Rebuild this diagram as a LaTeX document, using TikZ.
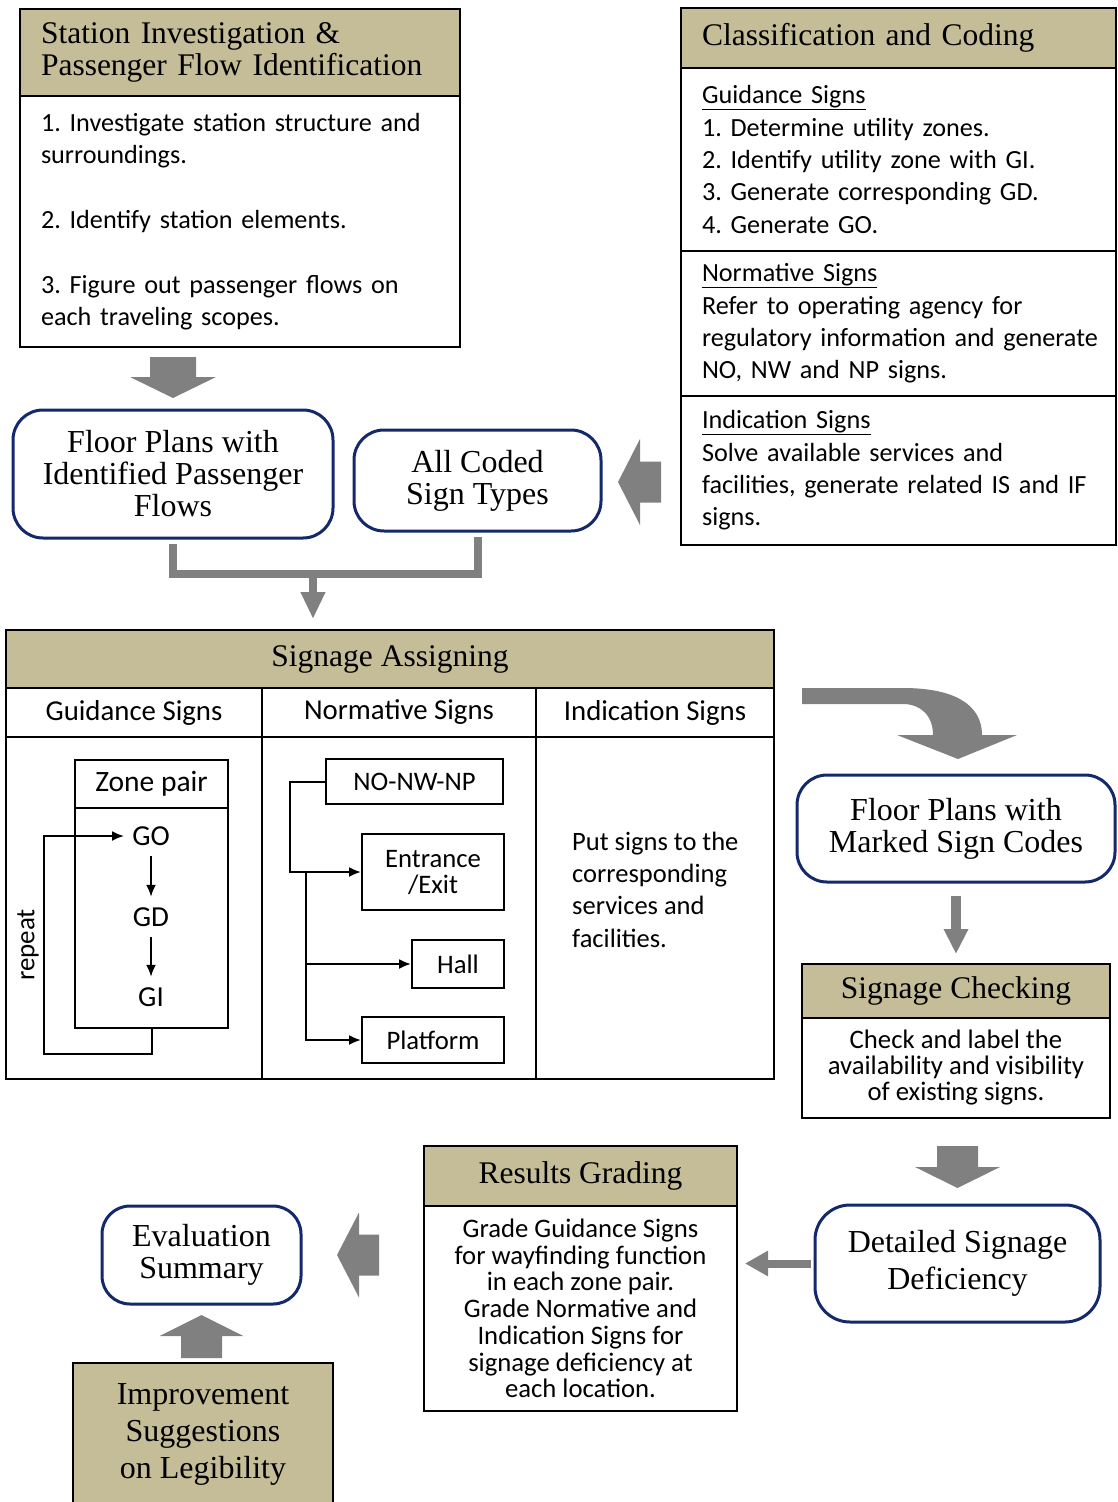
\documentclass[tikz,border=0pt]{standalone}
\usepackage{fontspec}
\setmainfont{Liberation Serif}
\newfontfamily\calib{Carlito}
\usepackage{tikz}
\usetikzlibrary{positioning,calc,arrows.meta}
\definecolor{tanbg}{HTML}{C4BD97}
\definecolor{navy}{HTML}{13296B}
\definecolor{grayarr}{HTML}{808080}
\newcommand{\hdfont}{\fontsize{31.5}{32}\selectfont}
\newcommand{\txfont}{\calib\fontsize{26.2}{32.4}\selectfont}
\newcommand{\colfont}{\calib\fontsize{28.8}{32}\selectfont}
\newcommand{\smfont}{\calib\fontsize{26.7}{26}\selectfont}
\newcommand{\grfont}{\calib\fontsize{26.7}{26.7}\selectfont}
\frenchspacing

\begin{document}
\begin{tikzpicture}[x=1pt,y=-1pt]
\tikzstyle{hdr}=[rectangle, draw=black, line width=2pt, fill=tanbg, inner sep=0pt, font=\hdfont]
\tikzstyle{txtbox}=[rectangle, draw=black, line width=2pt, inner sep=0pt, font=\txfont]
\tikzstyle{leftbox}=[inner xsep=21pt, align=left]
\tikzstyle{rbox}=[rectangle, rounded corners=30pt, draw=navy, line width=3pt, fill=white, inner sep=0pt, align=center, font=\fontsize{32}{32}\selectfont]
\tikzstyle{thinbox}=[rectangle, draw=black, line width=2pt, inner sep=0pt, align=center, font=\smfont]
\tikzstyle{code}=[inner sep=0pt, minimum height=40pt, font=\calib\fontsize{29}{32}\selectfont]
\tikzstyle{connect}=[-{Latex[length=12pt,width=10pt]}, line width=2pt]
\tikzstyle{gline}=[draw=grayarr, line width=8pt]
\tikzstyle{blk}=[fill=grayarr]
\useasboundingbox (0,0) rectangle (1117,1502);
\clip (0,0) rectangle (1117,1502);

	% station investigation
	\node[hdr, leftbox, text width=398pt, minimum height=87pt] (sta_h) at (240,52.5) {Station Investigation \&\\Passenger Flow Identification};
	\node[txtbox, leftbox, text width=398pt, minimum height=251pt] (sta_b) at (240,221.5) {\mbox{1. Investigate station structure and}\\surroundings.\\[32.4pt]2. Identify station elements.\\[32.4pt]3. Figure out passenger flows on\\each traveling scopes.};

	% classification and coding
	\node[hdr, leftbox, text width=393pt, minimum height=60pt] (cls_h) at (898.5,38) {Classification and Coding};
	\node[txtbox, leftbox, text width=393pt, minimum height=183pt] (cls_g) at (898.5,159.5) {\underline{Guidance Signs}\\1. Determine utility zones.\\2. Identify utility zone with GI.\\3. Generate corresponding GD.\\4. Generate GO.};
	\node[txtbox, leftbox, text width=393pt, minimum height=145pt] (cls_n) at (898.5,323.5) {\underline{Normative Signs}\\Refer to operating agency for\\\mbox{regulatory information and generate}\\NO, NW and NP signs.};
	\node[txtbox, leftbox, text width=393pt, minimum height=149pt] (cls_i) at (898.5,470.5) {\underline{Indication Signs}\\Solve available services and\\\mbox{facilities, generate related IS and IF}\\signs.};

	\node[rbox, minimum width=320pt, minimum height=128pt] (plans) at (173,474) {Floor Plans with\\Identified Passenger\\Flows};
	\node[rbox, minimum width=247pt, minimum height=101pt] (coded) at (477.5,480.5) {All Coded\\Sign Types};

	% signage assigning
	\node[hdr, minimum width=768pt, minimum height=58pt] (assign) at (390,659) {Signage Assigning};
	\node[txtbox, minimum width=256pt, minimum height=49pt, font=\colfont] (g_col) at (134,712.5) {Guidance Signs};
	\node[txtbox, minimum width=274pt, minimum height=49pt, font=\colfont] (n_col) at (399,712.5) {Normative Signs};
	\node[txtbox, minimum width=238pt, minimum height=49pt, font=\colfont] (i_col) at (655,712.5) {Indication Signs};
	\node[txtbox, minimum width=256pt, minimum height=342pt] (g_body) at (134,908) {};
	\node[txtbox, minimum width=274pt, minimum height=342pt] (n_body) at (399,908) {};
	\node[txtbox, minimum width=238pt, minimum height=342pt] (i_body) at (655,908) {};

	\node[thinbox, minimum width=153pt, minimum height=48pt, font=\calib\fontsize{29.5}{32}\selectfont] (zone) at (151.5,784) {Zone pair};
	\node[thinbox, minimum width=153pt, minimum height=220pt] (zone_b) at (151.5,918) {};
	\node[code] (go) at (151,836) {GO};
	\node[code] (gd) at (151,917) {GD};
	\node[code] (gi) at (151,997) {GI};
	\node[code, rotate=90, font=\calib\fontsize{27}{32}\selectfont] (rep) at (28,945) {repeat};

	\node[thinbox, minimum width=177pt, minimum height=45pt] (nonwnp) at (414.5,781.5) {NO-NW-NP};
	\node[thinbox, minimum width=142pt, minimum height=76pt] (entr) at (433,872) {Entrance\\/Exit};
	\node[thinbox, minimum width=92pt, minimum height=48pt] (hall) at (458,964) {Hall};
	\node[thinbox, minimum width=142pt, minimum height=46pt] (plat) at (433,1040) {Platform};
	\coordinate (nsplit) at (306,872);

	\node[anchor=west, align=left, inner sep=0pt, font=\calib\fontsize{26.5}{32.4}\selectfont] (put) at (572,889.5) {Put signs to the\\corresponding\\services and\\facilities.};

	% right and bottom
	\node[rbox, minimum width=318pt, minimum height=107pt] (marked) at (956,828.5) {Floor Plans with\\Marked Sign Codes};
	\node[hdr, minimum width=308pt, minimum height=54pt] (chk_h) at (956,991) {Signage Checking};
	\node[txtbox, minimum width=308pt, minimum height=100pt, align=center, font=\smfont] (chk_b) at (956,1068) {Check and label the\\availability and visibility\\of existing signs.};
	\node[rbox, minimum width=285pt, minimum height=117pt, rounded corners=35pt, font=\fontsize{32}{37}\selectfont] (defic) at (957.5,1263.5) {Detailed Signage\\Deficiency};
	\node[hdr, minimum width=313pt, minimum height=60pt] (grd_h) at (580.5,1176) {Results Grading};
	\node[txtbox, minimum width=313pt, minimum height=205pt, align=center, font=\grfont] (grd_b) at (580.5,1308.5) {Grade Guidance Signs\\for wayfinding function\\in each zone pair.\\Grade Normative and\\Indication Signs for\\signage deficiency at\\each location.};
	\node[rbox, minimum width=199pt, minimum height=98pt, rounded corners=28pt] (eval) at (201.5,1255) {Evaluation\\Summary};
	\node[hdr, minimum width=260pt, minimum height=142pt, align=center, font=\fontsize{32}{37}\selectfont] (improv) at (203,1434) {Improvement\\Suggestions\\on Legibility};

	% connectors
	\draw[connect] (go) -- (gd);
	\draw[connect] (gd) -- (gi);
	\draw[connect, shorten >=8pt] (zone_b.south) -- ++(0,25) -- ++(-107.5,0) |- (go.west);
	\draw[connect] (nonwnp.west) -- ++(-35,0) |- (entr.west);
	\draw[connect] (nsplit) |- (hall.west);
	\draw[connect] (nsplit) |- (plat.west);

	\coordinate (join) at (313,574);
	\draw[gline, shorten <=4pt] (plans.south) |- (join);
	\draw[gline, shorten <=4pt] (coded.south) |- (join);
	\draw[gline, -{Triangle[length=27pt,width=23pt]}, shorten >=10pt] (join) -- (join |- assign.north);
	\draw[grayarr, line width=10pt, -{Triangle[length=25pt,width=23pt]}, shorten <=12pt, shorten >=9pt] (marked.south) -- (chk_h.north);
	\draw[gline, -{Triangle[length=23pt,width=24pt]}, shorten <=3pt, shorten >=7pt] (defic.west) -- (defic.west -| grd_b.east);

	\coordinate (a1) at (173,357);
	\fill[blk] (a1) +(-23,0) -- +(23,0) -- +(23,20) -- +(43,20) -- +(0,41) -- +(-43,20) -- +(-23,20) -- cycle;
	\coordinate (a2) at (661,482);
	\fill[blk] (a2) +(0,-20.5) -- +(-21,-20.5) -- +(-21,-43) -- +(-43,0) -- +(-21,43) -- +(-21,20.5) -- +(0,20.5) -- cycle;
	\fill[blk] (802,688) -- (903,688) .. controls (955,688) and (982,705) .. (982,735) -- (1017,735) -- (958,759) -- (897,735) -- (933,735) .. controls (933,715) and (920,704) .. (903,704) -- (802,704) -- cycle;
	\coordinate (a5) at (957.5,1146);
	\fill[blk] (a5) +(-20.5,0) -- +(20.5,0) -- +(20.5,21) -- +(42.5,21) -- +(0,42) -- +(-42.5,21) -- +(-20.5,21) -- cycle;
	\coordinate (a7) at (379,1255);
	\fill[blk] (a7) +(0,-20.5) -- +(-20,-20.5) -- +(-20,-42.5) -- +(-42,0) -- +(-20,42.5) -- +(-20,20.5) -- +(0,20.5) -- cycle;
	\coordinate (a8) at (201.5,1358);
	\fill[blk] (a8) +(-20.5,0) -- +(20.5,0) -- +(20.5,-22) -- +(42,-22) -- +(0,-43) -- +(-42,-22) -- +(-20.5,-22) -- cycle;

\end{tikzpicture}
\end{document}
